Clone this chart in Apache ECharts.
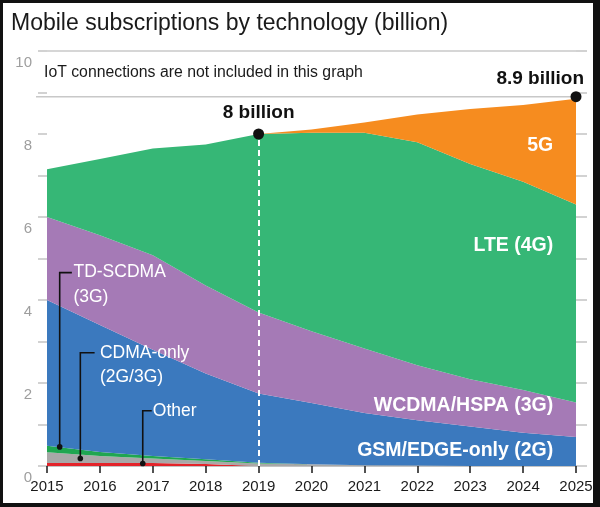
<!DOCTYPE html>
<html>
<head>
<meta charset="utf-8">
<script src="https://cdn.jsdelivr.net/npm/echarts@6/dist/echarts.min.js"></script>
<style>
  html, body { margin: 0; padding: 0; background: #fff; }
  #wrap { position: relative; width: 600px; height: 507px; }
  #chart { position: absolute; left: 0; top: 0; width: 600px; height: 507px; }
  #frame { position: absolute; left: 0; top: 0; width: 600px; height: 507px; box-sizing: border-box;
           border-style: solid; border-color: #111; border-width: 3px 7px 4px 3px; pointer-events: none; }
</style>
</head>
<body>
<div id="wrap"><div id="chart"></div><div id="frame"></div></div>
<script>
// ---- data (billion subscriptions) ----
const years = [2015, 2016, 2017, 2018, 2019, 2020, 2021, 2022, 2023, 2024, 2025];
const other   = [0.07, 0.07, 0.07, 0.05, 0.00, 0.00, 0.00, 0.00, 0.00, 0.00, 0.00];
const cdma    = [0.26, 0.17, 0.11, 0.07, 0.06, 0.04, 0.02, 0.01, 0.00, 0.00, 0.00];
const tdscdma = [0.16, 0.10, 0.06, 0.04, 0.02, 0.00, 0.00, 0.00, 0.00, 0.00, 0.00];
const gsm     = [3.51, 3.06, 2.56, 2.07, 1.67, 1.48, 1.26, 1.09, 0.95, 0.80, 0.70];
const wcdma   = [2.00, 2.16, 2.28, 2.12, 1.95, 1.73, 1.55, 1.33, 1.14, 1.03, 0.83];
const lte     = [1.15, 1.84, 2.57, 3.40, 4.30, 4.78, 5.20, 5.37, 5.19, 5.02, 4.77];
const fiveG   = [0.00, 0.00, 0.00, 0.00, 0.00, 0.08, 0.25, 0.67, 1.32, 1.85, 2.55];

const seriesNames = ['Other', 'CDMA-only (2G/3G)', 'TD-SCDMA (3G)', 'GSM/EDGE-only (2G)', 'WCDMA/HSPA (3G)', 'LTE (4G)', '5G'];
const seriesColors = ['#e3232a', '#a8a8a8', '#1fa651', '#3b79be', '#a57ab6', '#36b776', '#f68c1f'];

const yTickLabels = ['0', '2', '4', '6', '8', '10'];
const milestoneYears = [2019, 2025];
const milestoneValues = [8, 8.9];
const milestoneLabels = ['8 billion', '8.9 billion'];

const titleText = 'Mobile subscriptions by technology (billion)';
const noteText = 'IoT connections are not included in this graph';

// in-area labels (right aligned at xAnchor, centred on yAnchor)
const areaLabels = ['5G', 'LTE (4G)', 'WCDMA/HSPA (3G)', 'GSM/EDGE-only (2G)'];
const areaLabelX = [2024.57, 2024.57, 2024.57, 2024.57];
const areaLabelY = [7.73, 5.30, 1.46, 0.37];

// callouts for the thin bands
const calloutTexts = ['TD-SCDMA\n(3G)', 'CDMA-only\n(2G/3G)', 'Other'];
const calloutDot = [[2015.24, 0.46], [2015.63, 0.18], [2016.81, 0.06]];
const calloutElbowY = [4.66, 2.73, 1.33];
const calloutLineEndX = [2015.47, 2015.90, 2016.98];
const calloutTextX = [2015.50, 2016.00, 2017.00];

const FONT = "'Liberation Sans', Arial, sans-serif";

const chart = echarts.init(document.getElementById('chart'), null, { renderer: 'canvas' });
const allSeries = [other, cdma, tdscdma, gsm, wcdma, lte, fiveG];

const series = allSeries.map((arr, i) => ({
  name: seriesNames[i],
  type: 'line',
  stack: 'total',
  xAxisIndex: 0,
  yAxisIndex: 0,
  smooth: false,
  showSymbol: false,
  symbol: 'none',
  lineStyle: { width: 0, color: seriesColors[i] },
  areaStyle: { color: seriesColors[i], opacity: 1 },
  itemStyle: { color: seriesColors[i] },
  data: arr.slice(),
  z: 2,
  silent: true
}));

series.push({
  name: 'milestones',
  type: 'scatter',
  xAxisIndex: 1,
  yAxisIndex: 0,
  clip: false,
  symbolSize: 11,
  itemStyle: { color: '#111111', opacity: 1 },
  z: 5,
  data: milestoneYears.map((y, i) => ({
    value: [y, milestoneValues[i]],
    label: i === 0
      ? { show: true, position: 'top', distance: 6, formatter: milestoneLabels[i] }
      : { show: true, position: 'top', align: 'right', offset: [8, 2], formatter: milestoneLabels[i] }
  })),
  label: { color: '#111111', fontFamily: FONT, fontWeight: 'bold', fontSize: 19, opacity: 1 },
  markLine: {
    silent: true,
    symbol: 'none',
    label: { show: false },
    lineStyle: { color: '#ffffff', type: [6, 4], width: 2, opacity: 1 },
    data: [[{ coord: [milestoneYears[0], 0] }, { coord: [milestoneYears[0], milestoneValues[0]] }]],
    z: 4
  }
});

const option = {
  animation: false,
  backgroundColor: '#ffffff',
  title: [
    { text: titleText, left: 11, top: 12, padding: 0,
      textStyle: { fontFamily: FONT, fontSize: 23, fontWeight: 'normal', color: '#1a1a1a' } },
    { text: noteText, left: 44, top: 65, padding: 0,
      textStyle: { fontFamily: FONT, fontSize: 15.8, fontWeight: 'normal', color: '#1a1a1a' } }
  ],
  grid: { left: 47, right: 24, top: 51, bottom: 41, containLabel: false },
  xAxis: [
    {
      type: 'category', data: years.map(String), boundaryGap: false,
      axisLine: { show: true, lineStyle: { color: '#bdbdbd', width: 1.5 } },
      axisTick: { show: true, length: 7, alignWithLabel: true, lineStyle: { color: '#1a1a1a', width: 1.5 } },
      axisLabel: { color: '#1a1a1a', fontFamily: FONT, fontSize: 15, margin: 13, interval: 0 },
      splitLine: { show: false }
    },
    {
      type: 'value', min: 2015, max: 2025, interval: 1, show: false
    }
  ],
  yAxis: [
    {
      type: 'value', min: 0, max: 10, interval: 1, position: 'left',
      axisLine: { show: false },
      axisTick: { show: true, length: 9, lineStyle: { color: '#c4c4c4', width: 1.5 } },
      axisLabel: {
        color: '#9e9e9e', fontFamily: FONT, fontSize: 15, margin: 15,
        verticalAlign: 'top', lineHeight: 23,
        formatter: v => (yTickLabels.indexOf(String(v)) >= 0 ? String(v) : '')
      },
      splitLine: { show: false }
    },
    {
      type: 'value', min: 0, max: 10, interval: 1, position: 'right',
      axisLine: { show: false },
      axisTick: { show: true, length: 11, lineStyle: { color: '#c4c4c4', width: 1.5 } },
      axisLabel: { show: false },
      splitLine: { show: false }
    },
    {
      type: 'value', min: 0, max: 10, interval: 10, position: 'left',
      axisLine: { show: false }, axisTick: { show: false }, axisLabel: { show: false },
      splitLine: { show: true, lineStyle: { color: '#c8c8c8', width: 1.5 } }
    }
  ],
  series: series
};

chart.setOption(option);

// annotations placed through the chart's own coordinate system (value x axis)
const px = (x, y) => chart.convertToPixel({ xAxisIndex: 1, yAxisIndex: 0 }, [x, y]);
const graphics = [];

// reference line at the 2025 total
const lineL = px(years[0], milestoneValues[1]);
const lineR = px(years[years.length - 1], milestoneValues[1]);
graphics.push({
  type: 'line', z: 3, silent: true,
  shape: { x1: lineL[0] - 11, y1: lineL[1], x2: lineR[0], y2: lineR[1] },
  style: { stroke: '#c8c8c8', lineWidth: 1.5 }
});

areaLabels.forEach((t, i) => {
  const p = px(areaLabelX[i], areaLabelY[i]);
  graphics.push({
    type: 'text', z: 10, silent: true, x: p[0], y: p[1],
    style: { text: t, fill: '#ffffff', font: 'bold 19.5px ' + FONT, align: 'right', verticalAlign: 'middle' }
  });
});

calloutTexts.forEach((t, i) => {
  const d = px(calloutDot[i][0], calloutDot[i][1]);
  const e = px(calloutDot[i][0], calloutElbowY[i]);
  const l = px(calloutLineEndX[i], calloutElbowY[i]);
  const tx = px(calloutTextX[i], calloutElbowY[i]);
  graphics.push({
    type: 'polyline', z: 10, silent: true,
    shape: { points: [[l[0], l[1]], [e[0], e[1]], [d[0], d[1]]] },
    style: { stroke: '#111111', lineWidth: 1.6, fill: null }
  });
  graphics.push({
    type: 'circle', z: 10, silent: true,
    shape: { cx: d[0], cy: d[1], r: 2.8 },
    style: { fill: '#111111' }
  });
  graphics.push({
    type: 'text', z: 10, silent: true, x: tx[0], y: tx[1] - 12.25,
    style: { text: t, fill: '#ffffff', font: '17.5px ' + FONT, lineHeight: 24.5, align: 'left', verticalAlign: 'top' }
  });
});

chart.setOption({ graphic: graphics });
</script>
</body>
</html>
